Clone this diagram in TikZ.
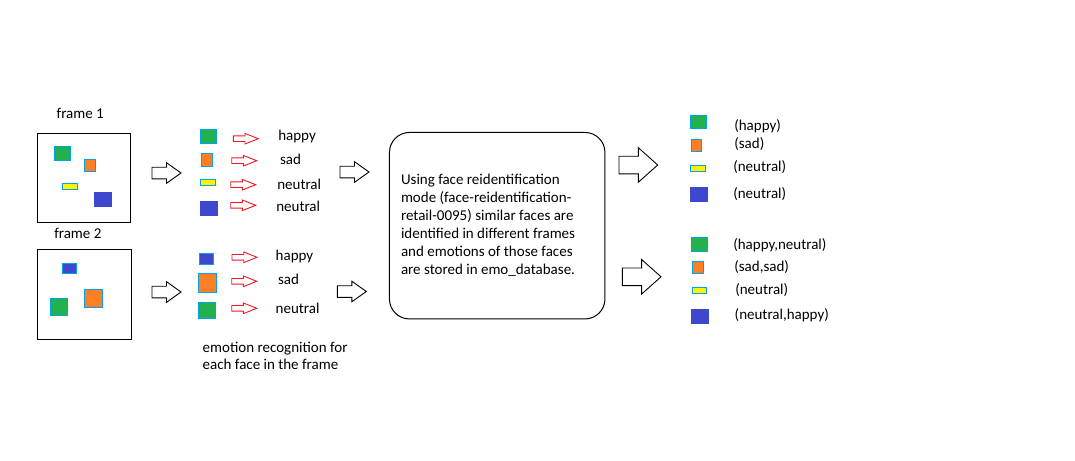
\documentclass[tikz,border=0pt]{standalone}
\usepackage{fontspec}
\setmainfont{Carlito}
\definecolor{grn}{HTML}{22B14C}
\definecolor{org}{HTML}{FF7F27}
\definecolor{yel}{HTML}{FFF200}
\definecolor{blu}{HTML}{3F48CC}
\definecolor{cyanb}{HTML}{00A2E8}
\definecolor{redc}{HTML}{ED1C24}
\tikzset{
  redarr/.pic={\draw[draw=redc, line width=0.9pt, fill=white] (0,-2.8) -- (11.7,-2.8) -- (11.7,-5.3) -- (25,0) -- (11.7,5.3) -- (11.7,2.8) -- (0,2.8) -- cycle;},
  smallarr/.pic={\draw[line width=0.9pt, fill=white] (0,-5.8) -- (14.5,-5.8) -- (14.5,-10.3) -- (29,0) -- (14.5,10.3) -- (14.5,5.8) -- (0,5.8) -- cycle;},
  bigarr/.pic={\draw[line width=0.9pt, fill=white] (0,-8.8) -- (19.3,-8.8) -- (19.3,-17.3) -- (38.7,0) -- (19.3,17.3) -- (19.3,8.8) -- (0,8.8) -- cycle;}
}
\begin{document}
\begin{tikzpicture}[x=1pt,y=-1pt,
  every node/.style={font=\fontsize{15}{18}\selectfont, inner sep=0pt, outer sep=0pt},
  lbl/.style={anchor=base west},
  sq/.style={draw=cyanb, line width=0.9pt},
  nb/.style={draw=none},
  frm/.style={draw, line width=1pt},
  para/.style={anchor=base west, align=left}
]
\useasboundingbox (0,0) rectangle (1075,460);
\fill[white] (0,0) rectangle (1075,460);

% frames
\node[lbl] (t1) at (56.7,118.3) {frame 1};
\node[lbl] (t2) at (54.3,238.3) {frame 2};
\node[frm, minimum width=93.5, minimum height=89] (fr1) at (83.8,177.5) {};
\node[frm, minimum width=94, minimum height=90] (fr2) at (84,294) {};

% frame 1 faces
\node[sq, fill=grn, minimum width=15.4, minimum height=13.4] (f1g) at (62.5,153.5) {};
\node[sq, fill=org, minimum width=10.4, minimum height=12] (f1o) at (90,165.8) {};
\node[sq, fill=yel, minimum width=14.4, minimum height=6] (f1y) at (70,186.8) {};
\node[nb, fill=blu, minimum width=18, minimum height=14.7] (f1b) at (103,199.3) {};
% frame 2 faces
\node[sq, fill=blu, minimum width=13.4, minimum height=10] (f2b) at (69.5,268.8) {};
\node[sq, fill=grn, minimum width=16.7, minimum height=16.7] (f2g) at (58.8,306.8) {};
\node[sq, fill=org, minimum width=17.4, minimum height=18] (f2o) at (93.5,298.8) {};

% arrows frame -> list
\pic (a1) at (152,173) {smallarr};
\pic (a2) at (152,292) {smallarr};

% list 1
\node[sq, fill=grn, minimum width=15.4, minimum height=13.4] (c1g) at (208.5,136.5) {};
\node[sq, fill=org, minimum width=10.7, minimum height=13] (c1o) at (206.8,159.7) {};
\node[sq, fill=yel, minimum width=14.4, minimum height=6] (c1y) at (208,182.8) {};
\node[nb, fill=blu, minimum width=17.7, minimum height=15] (c1b) at (208.8,208.2) {};
\node[sq, fill=blu, minimum width=13.7, minimum height=10.4] (c2b) at (206.3,259) {};
\node[sq, fill=org, minimum width=17.4, minimum height=18.7] (c2o) at (207.5,282.8) {};
\node[sq, fill=grn, minimum width=16.4, minimum height=16.6] (c2g) at (207,310.5) {};

% red arrows
\pic (r1) at (233.3,138.7) {redarr};
\pic (r2) at (231.7,160.7) {redarr};
\pic (r3) at (230.7,184.7) {redarr};
\pic (r4) at (230.7,205.3) {redarr};
\pic (r5) at (232,257.3) {redarr};
\pic (r6) at (231.7,281.3) {redarr};
\pic (r7) at (231.7,308.3) {redarr};

% emotion labels
\node[lbl] (e1) at (278.3,140.7) {happy};
\node[lbl] (e2) at (280,164.3) {sad};
\node[lbl] (e3) at (277.3,189) {neutral};
\node[lbl] (e4) at (276.3,211.3) {neutral};
\node[lbl] (e5) at (275.7,260) {happy};
\node[lbl] (e6) at (278,284) {sad};
\node[lbl] (e7) at (275.7,313.3) {neutral};

% multi-line nodes: base anchor is the baseline of the last line
\node[para, font=\fontsize{15}{17}\selectfont] (cap) at (202.7,369.3) {emotion recognition for\\each face in the frame};

% arrows list -> box
\pic (a3) at (340,172) {smallarr};
\pic (a4) at (337.3,291.5) {smallarr};

% database box
\node[draw, line width=1pt, rounded corners=20pt, minimum width=215.5, minimum height=186.5] (db) at (497.2,225.7) {};
\node[para] (dbt) at (401,274.3) {Using face reidentification\\mode (face-reidentification-\\retail-0095) similar faces are\\identified in different frames\\and emotions of those faces\\are stored in emo\_database.};

% arrows box -> results
\pic (b1) at (619,165) {bigarr};
\pic (b2) at (622.3,276.8) {bigarr};

% results
\node[sq, fill=grn, minimum width=15.4, minimum height=13.3] (rg1) at (698.5,122.2) {};
\node[sq, fill=org, minimum width=10.3, minimum height=12.3] (ro1) at (696.7,145.7) {};
\node[sq, fill=yel, minimum width=14.4, minimum height=6] (ry1) at (698,168.8) {};
\node[nb, fill=blu, minimum width=18, minimum height=14.7] (rb1) at (699,194.3) {};
\node[sq, fill=grn, minimum width=15.7, minimum height=13.4] (rg2) at (699.3,244.5) {};
\node[sq, fill=org, minimum width=10.4, minimum height=12.3] (ro2) at (698,267.7) {};
\node[sq, fill=yel, minimum width=14, minimum height=6] (ry2) at (699.2,290.8) {};
\node[nb, fill=blu, minimum width=18, minimum height=14.7] (rb2) at (700,316.3) {};

\node[lbl] (l1) at (734.3,130.5) {(happy)};
\node[lbl] (l2) at (734.3,148) {(sad)};
\node[lbl] (l3) at (733.3,171.3) {(neutral)};
\node[lbl] (l4) at (733.3,198) {(neutral)};
\node[lbl] (l5) at (733.3,249.7) {(happy,neutral)};
\node[lbl] (l6) at (734.3,271.3) {(sad,sad)};
\node[lbl] (l7) at (735.3,294.7) {(neutral)};
\node[lbl] (l8) at (734.7,319) {(neutral,happy)};
\end{tikzpicture}
\end{document}
